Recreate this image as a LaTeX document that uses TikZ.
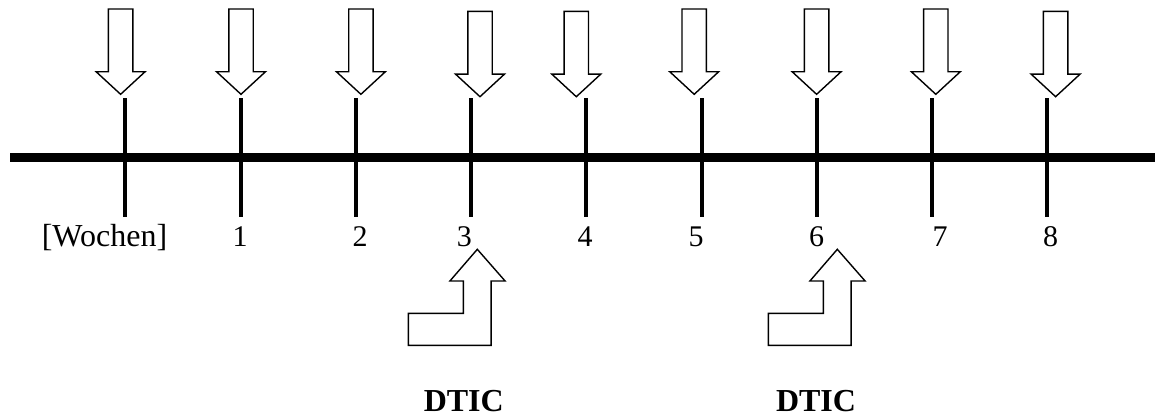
\documentclass[tikz,border=0pt]{standalone}
\usepackage{fontspec}
\setmainfont{Liberation Serif}
\begin{document}
\begin{tikzpicture}[x=1pt,y=-1pt,
  axisline/.style={line width=8.3pt},
  tickline/.style={line width=4pt},
  hollowarrow/.style={draw=black,fill=white,line width=1.4pt,line join=miter},
  numlabel/.style={anchor=base,inner sep=0pt,font=\fontsize{30}{32}\selectfont},
  unitlabel/.style={anchor=base,inner sep=0pt,font=\fontsize{32}{34}\selectfont},
  druglabel/.style={anchor=base,inner sep=0pt,font=\fontsize{32}{34}\selectfont\bfseries},
  pics/downarrow/.style={code={
    \draw[hollowarrow] (-12.2,-85.3) -- (12.2,-85.3) -- (12.2,-22.6) -- (24.5,-22.6)
      -- (0,0) -- (-24.5,-22.6) -- (-12.2,-22.6) -- cycle;}},
  pics/lupArrow/.style={code={
    \draw[hollowarrow] (-69,96) -- (13.8,96) -- (13.8,31.7) -- (27.8,31.7)
      -- (0,0) -- (-27.4,31.7) -- (-14,31.7) -- (-14,64) -- (-69,64) -- cycle;}}]
\useasboundingbox (0,0) rectangle (1155,416);
% axis
\coordinate (axL) at (10,157.5);
\coordinate (axR) at (1155,157.5);
\draw[axisline] (axL) -- (axR);
% ticks
\foreach \i/\x in {0/125,1/240.5,2/355.8,3/471,4/586.3,5/701.5,6/816.8,7/932.1,8/1047.4}{
  \coordinate (t\i a) at (\x,98);
  \coordinate (t\i b) at (\x,216.7);
  \draw[tickline] (t\i a) -- (t\i b);
}
% down arrows
\foreach \x/\y in {120.6/94.3,241/94.3,360.9/94.3,480/96.7,576.3/96.7,694.2/94.3,816.6/94.3,935.8/94.3,1055.6/96.7}{
  \pic at (\x,\y) {downarrow};
}
% labels
\node[unitlabel] (lw) at (104.5,246.7) {[Wochen]};
\node[numlabel] (l1) at (240,246.7) {1};
\node[numlabel] (l2) at (360,246.7) {2};
\node[numlabel] (l3) at (464.4,246.7) {3};
\node[numlabel] (l4) at (585,246.7) {4};
\node[numlabel] (l5) at (696,246.7) {5};
\node[numlabel] (l6) at (816.7,246.7) {6};
\node[numlabel] (l7) at (940,246.7) {7};
\node[numlabel] (l8) at (1050.7,246.7) {8};
% L-shaped up arrows
\pic at (477.3,249.3) {lupArrow};
\pic at (837.3,249.3) {lupArrow};
\node[druglabel] (d1) at (463.8,411) {DTIC};
\node[druglabel] (d2) at (816,411) {DTIC};
\end{tikzpicture}
\end{document}
